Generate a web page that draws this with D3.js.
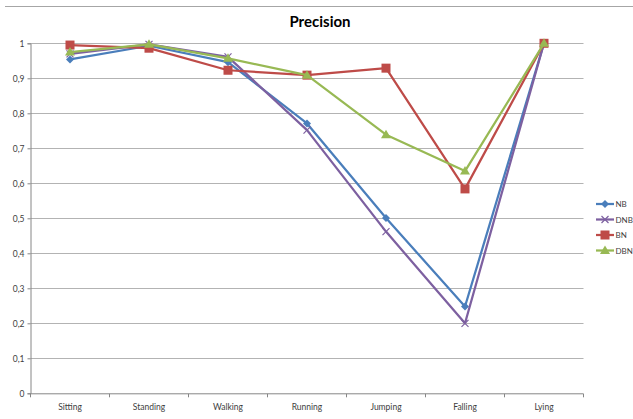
<!DOCTYPE html>
<html>
<head>
<meta charset="utf-8">
<script src="https://cdn.jsdelivr.net/npm/d3@7"></script>
<style>
  html, body { margin: 0; padding: 0; background: #fff; }
  svg { display: block; font-family: Lato, "Open Sans", sans-serif; }
</style>
</head>
<body>
<svg id="chart" width="633" height="419"></svg>
<script>
const categories = ["Sitting", "Standing", "Walking", "Running", "Jumping", "Falling", "Lying"];
const seriesNames = ["NB", "DNB", "BN", "DBN"];
const nbValues  = [0.954, 0.993, 0.946, 0.771, 0.501, 0.248, 1.0];
const dnbValues = [0.970, 0.997, 0.961, 0.752, 0.462, 0.200, 1.0];
const bnValues  = [0.995, 0.986, 0.923, 0.909, 0.929, 0.584, 1.0];
const dbnValues = [0.975, 0.997, 0.957, 0.909, 0.739, 0.635, 1.0];
const yTicks = [0, 0.1, 0.2, 0.3, 0.4, 0.5, 0.6, 0.7, 0.8, 0.9, 1];
const colors = ["#4a7ebb", "#7d60a0", "#be4b48", "#98b954"];
const markers = ["diamond", "cross", "square", "triangle"];

const series = [nbValues, dnbValues, bnValues, dbnValues].map((v, i) => ({
  name: seriesNames[i], values: v, color: colors[i], marker: markers[i]
}));

const svg = d3.select("#chart");
const plotLeft = 30.5, plotRight = 583.5, plotTop = 43.3, plotBottom = 393.3;

const x = d3.scaleBand().domain(categories).range([plotLeft, plotRight]);
const y = d3.scaleLinear().domain([0, 1]).range([plotBottom, plotTop]);

// frame line along the top
svg.append("line").attr("x1", 5).attr("x2", 633).attr("y1", 6.5).attr("y2", 6.5)
  .attr("stroke", "#a6a6a6").attr("stroke-width", 1);

// title
svg.append("text").attr("x", 320).attr("y", 27).attr("text-anchor", "middle")
  .attr("font-size", 15).attr("font-weight", "bold").attr("fill", "#000").text("Precision");

// horizontal gridlines
svg.append("g").selectAll("line").data(yTicks.filter(d => d > 0)).join("line")
  .attr("x1", plotLeft).attr("x2", plotRight)
  .attr("y1", d => Math.round(y(d)) + 0.5).attr("y2", d => Math.round(y(d)) + 0.5)
  .attr("stroke", "#b3b3b3").attr("stroke-width", 1);

// y axis
const yAxis = d3.axisLeft(y).tickValues(yTicks).tickSize(3)
  .tickFormat(d => d3.format("~g")(d).replace(".", ","));
const gy = svg.append("g").attr("transform", `translate(${plotLeft},0)`).call(yAxis);
gy.select(".domain").attr("stroke", "#868686");
gy.selectAll(".tick line").attr("stroke", "#868686");
gy.selectAll(".tick text").attr("font-size", 8.5).attr("fill", "#404040")
  .attr("x", -6).attr("font-family", "Lato, 'Open Sans', sans-serif");

// x axis with ticks on band boundaries
const gx = svg.append("g").attr("transform", `translate(0,${plotBottom})`);
gx.append("line").attr("x1", plotLeft).attr("x2", plotRight).attr("y1", 0.5).attr("y2", 0.5)
  .attr("stroke", "#868686");
const bounds = categories.map(c => x(c)).concat([plotRight]);
gx.selectAll(".bt").data(bounds).join("line").attr("class", "bt")
  .attr("x1", d => d).attr("x2", d => d).attr("y1", 0.5).attr("y2", 4)
  .attr("stroke", "#868686");
gx.selectAll(".cl").data(categories).join("text").attr("class", "cl")
  .attr("x", d => x(d) + x.bandwidth() / 2).attr("y", 17)
  .attr("text-anchor", "middle").attr("font-size", 8.5).attr("fill", "#404040").text(d => d);

const cx = i => x(categories[i]) + x.bandwidth() / 2;
const line = d3.line().x((d, i) => cx(i)).y(d => y(d));

function drawMarker(g, type, color, px, py) {
  if (type === "diamond") {
    g.append("path").attr("d", `M${px},${py - 4}L${px + 4},${py}L${px},${py + 4}L${px - 4},${py}Z`)
      .attr("fill", color);
  } else if (type === "square") {
    g.append("rect").attr("x", px - 4.5).attr("y", py - 4.5).attr("width", 9).attr("height", 9)
      .attr("fill", color);
  } else if (type === "triangle") {
    g.append("path").attr("d", `M${px},${py - 5}L${px + 5},${py + 3.5}L${px - 5},${py + 3.5}Z`)
      .attr("fill", color);
  } else if (type === "cross") {
    g.append("path").attr("d", `M${px - 3.5},${py - 3.5}L${px + 3.5},${py + 3.5}M${px + 3.5},${py - 3.5}L${px - 3.5},${py + 3.5}`)
      .attr("stroke", color).attr("stroke-width", 1.2).attr("fill", "none");
  }
}

// series lines and markers
series.forEach(s => {
  const g = svg.append("g");
  g.append("path").attr("d", line(s.values)).attr("fill", "none")
    .attr("stroke", s.color).attr("stroke-width", 2.25).attr("stroke-linejoin", "round");
  s.values.forEach((v, i) => drawMarker(g, s.marker, s.color, cx(i), y(v)));
});

// legend
const legY = [204, 219.5, 235, 250.5];
series.forEach((s, i) => {
  const g = svg.append("g");
  g.append("line").attr("x1", 596).attr("x2", 614).attr("y1", legY[i]).attr("y2", legY[i])
    .attr("stroke", s.color).attr("stroke-width", 2.25);
  drawMarker(g, s.marker, s.color, 605, legY[i]);
  g.append("text").attr("x", 615.5).attr("y", legY[i] + 3).attr("font-size", 8)
    .attr("fill", "#404040").text(s.name);
});
</script>
</body>
</html>
